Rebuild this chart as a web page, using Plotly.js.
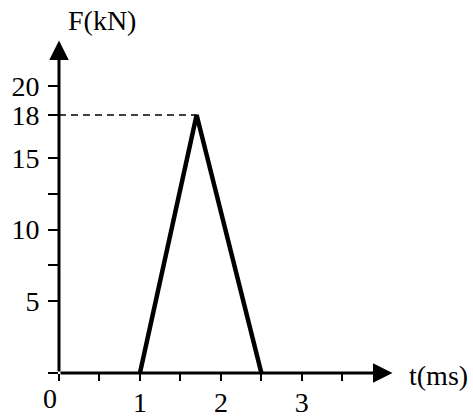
<!DOCTYPE html>
<html>
<head>
<meta charset="utf-8">
<script src="https://cdn.plot.ly/plotly-3.0.1.min.js"></script>
<style>html,body{margin:0;padding:0;background:#fff;}#chart{width:473px;height:419px;}</style>
</head>
<body>
<div id="chart"></div>
<script>
// Data
var timeMs = [1, 1.7, 2.5];
var forceKN = [0, 18, 0];
var peakForce = 18;
var peakTime = 1.7;
var xTickVals = [0, 0.5, 1, 1.5, 2, 2.5, 3, 3.5];
var xTickText = ['', '', '1', '', '2', '', '3', ''];
var yTickVals = [0, 5, 7.5, 10, 12.5, 15, 18, 20];
var yTickText = ['', '5', '', '10', '', '15', '18', '20'];
var xTitle = 't(ms)';
var yTitle = 'F(kN)';
var xMax = 4.12, yMax = 23.2;

var FONT = 'Liberation Serif, Times New Roman, serif';
var FS = 28;

var traces = [{
  x: timeMs, y: forceKN, mode: 'lines', type: 'scatter',
  line: {color: '#000', width: 4.5}, hoverinfo: 'skip', cliponaxis: false
}];

var layout = {
  width: 473, height: 419,
  margin: {l: 59, r: 74, t: 39, b: 46},
  paper_bgcolor: '#fff', plot_bgcolor: '#fff',
  showlegend: false,
  font: {family: FONT, size: FS, color: '#000'},
  xaxis: {
    range: [0, 4.2], showgrid: false, zeroline: false, showline: false,
    tickmode: 'array', tickvals: xTickVals, ticktext: xTickText,
    ticks: 'outside', ticklen: 7, tickwidth: 2, tickcolor: '#000',
    ticklabelstandoff: -3,
    tickfont: {family: FONT, size: FS, color: '#000'}
  },
  yaxis: {
    range: [0, 23.3], showgrid: false, zeroline: false, showline: false,
    tickmode: 'array', tickvals: yTickVals, ticktext: yTickText,
    ticks: 'outside', ticklen: 10, tickwidth: 2, tickcolor: '#000',
    ticklabelstandoff: 3,
    tickfont: {family: FONT, size: FS, color: '#000'}
  },
  shapes: [{
    type: 'line', xref: 'x', yref: 'y', x0: 0, y0: peakForce, x1: peakTime, y1: peakForce,
    line: {color: '#000', width: 1.5, dash: '7px,5px'}
  }],
  annotations: [
    {xref: 'x', yref: 'y', axref: 'x', ayref: 'y', x: xMax, y: 0, ax: 0, ay: 0,
     text: '', showarrow: true, arrowhead: 2, arrowsize: 1.3, arrowwidth: 3, arrowcolor: '#000'},
    {xref: 'x', yref: 'y', axref: 'x', ayref: 'y', x: 0, y: yMax, ax: 0, ay: 0,
     text: '', showarrow: true, arrowhead: 2, arrowsize: 1.3, arrowwidth: 3, arrowcolor: '#000'},
    {xref: 'paper', yref: 'paper', x: 0, y: 0, xshift: -9, yshift: -25, xanchor: 'center', yanchor: 'middle',
     text: '0', showarrow: false, font: {family: FONT, size: FS, color: '#000'}},
    {xref: 'x', yref: 'y', x: xMax, y: 0, xshift: 14, xanchor: 'left', yanchor: 'middle', yshift: -2,
     text: xTitle, showarrow: false, font: {family: FONT, size: FS, color: '#000'}},
    {xref: 'x', yref: 'y', x: 0, y: yMax, xshift: 43, yshift: 2, xanchor: 'center', yanchor: 'bottom',
     text: yTitle, showarrow: false, font: {family: FONT, size: FS, color: '#000'}}
  ]
};

Plotly.newPlot('chart', traces, layout, {staticPlot: true, displayModeBar: false});
</script>
</body>
</html>
